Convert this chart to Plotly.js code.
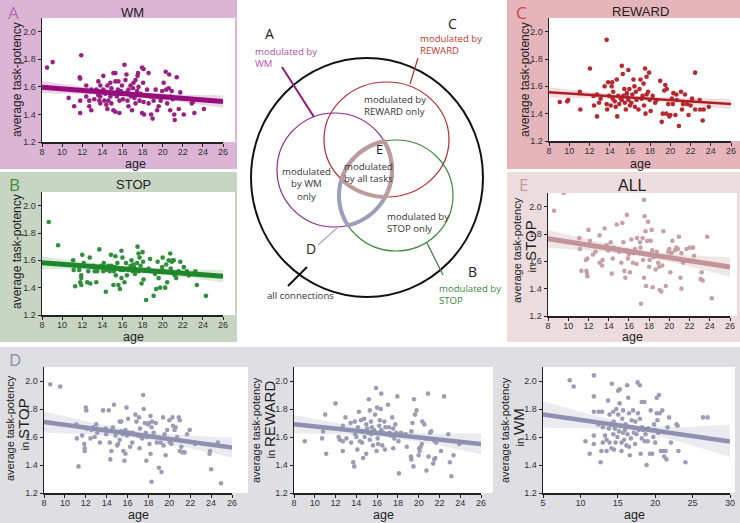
<!DOCTYPE html>
<html>
<head>
<meta charset="utf-8">
<script src="https://cdn.plot.ly/plotly-3.0.1.min.js"></script>
<style>
  html, body { margin: 0; padding: 0; background: #fff; }
  #fig { width: 740px; height: 523px; }
</style>
</head>
<body>
<div id="fig"></div>
<script>
// ---- data ----
var ageA = [8.5,9.06,10.65,11.2,11.75,11.8,11.9,11.8,11.8,12.4,12.4,12.7,12.7,12.9,12.9,13.2,13.4,13.6,13.7,13.6,13.8,13.8,13.8,14.1,14.1,14.2,14.3,14.4,14.5,14.5,14.6,14.8,14.8,14.9,14.9,15.1,15.1,15.1,15.3,15.3,15.3,15.45,15.55,15.6,15.7,15.7,15.85,15.95,16.05,16.2,16.3,16.4,16.45,16.5,16.6,16.6,16.8,16.85,16.95,17.05,17.1,17.2,17.3,17.3,17.45,17.5,17.55,17.6,17.7,17.8,17.95,17.95,18.05,18.1,18.1,18.15,18.45,18.6,18.6,18.8,18.85,19.0,19.1,19.3,19.45,19.5,19.6,19.8,19.95,20.1,20.1,20.3,20.35,20.45,20.6,20.65,20.75,20.8,20.9,21.0,21.15,21.2,21.4,21.6,21.75,22.1,22.9,23.0,23.15,24.1];
var potA = [1.74,1.78,1.52,1.46,1.67,1.66,1.83,1.50,1.41,1.61,1.53,1.50,1.46,1.43,1.58,1.51,1.58,1.54,1.50,1.64,1.61,1.53,1.48,1.68,1.58,1.50,1.55,1.47,1.44,1.61,1.50,1.63,1.53,1.59,1.48,1.70,1.55,1.43,1.70,1.64,1.42,1.53,1.58,1.64,1.50,1.41,1.57,1.61,1.51,1.76,1.65,1.69,1.56,1.50,1.58,1.46,1.61,1.53,1.43,1.59,1.63,1.52,1.65,1.48,1.57,1.68,1.70,1.60,1.50,1.55,1.74,1.41,1.63,1.73,1.49,1.40,1.58,1.70,1.48,1.53,1.40,1.37,1.50,1.58,1.43,1.53,1.46,1.50,1.57,1.63,1.53,1.71,1.58,1.48,1.59,1.69,1.43,1.53,1.57,1.51,1.40,1.36,1.67,1.44,1.56,1.40,1.48,1.49,1.41,1.44];

var ageB = [8.67,9.6,11.1,11.15,11.3,11.7,11.8,11.9,11.9,11.9,12.0,12.15,12.5,12.6,12.75,12.8,13.1,13.25,13.4,13.5,13.7,13.75,13.9,14.1,14.15,14.35,14.4,14.6,14.75,14.85,14.9,15.1,15.15,15.25,15.3,15.35,15.5,15.6,15.75,15.8,15.9,15.9,16.0,16.1,16.2,16.35,16.45,16.6,16.8,16.9,17.0,17.1,17.15,17.25,17.45,17.5,17.6,17.6,17.7,17.8,17.9,18.0,18.05,18.1,18.15,18.35,18.6,18.75,18.9,19.1,19.25,19.35,19.5,19.6,19.75,19.95,20.0,20.1,20.25,20.35,20.45,20.6,20.75,20.8,20.9,21.0,21.1,21.2,21.35,21.6,21.75,22.1,22.4,22.6,23.25,23.4,24.3];
var potB = [1.88,1.71,1.60,1.53,1.41,1.53,1.44,1.49,1.47,1.42,1.64,1.58,1.44,1.52,1.62,1.43,1.56,1.52,1.44,1.52,1.68,1.55,1.56,1.52,1.58,1.37,1.53,1.56,1.52,1.64,1.56,1.42,1.52,1.55,1.63,1.49,1.58,1.42,1.39,1.53,1.67,1.47,1.62,1.53,1.44,1.58,1.49,1.53,1.56,1.60,1.52,1.57,1.55,1.50,1.58,1.70,1.65,1.52,1.62,1.56,1.43,1.66,1.59,1.46,1.53,1.31,1.54,1.61,1.52,1.34,1.50,1.39,1.59,1.47,1.40,1.55,1.62,1.52,1.40,1.57,1.44,1.60,1.65,1.54,1.59,1.60,1.60,1.49,1.47,1.52,1.59,1.55,1.52,1.49,1.52,1.42,1.34];

var ageC = [9.06,9.8,9.9,11.05,11.1,12.05,12.4,12.45,12.75,12.75,12.95,13.1,13.5,13.7,13.7,13.75,13.85,13.95,14.1,14.2,14.25,14.3,14.35,14.5,14.6,14.7,14.75,14.85,14.95,15.1,15.2,15.2,15.3,15.35,15.45,15.5,15.6,15.7,15.75,15.85,15.85,15.95,16.0,16.15,16.25,16.35,16.45,16.5,16.6,16.65,16.85,16.95,17.05,17.15,17.25,17.35,17.4,17.5,17.55,17.65,17.65,17.8,17.9,17.95,18.05,18.25,18.5,18.65,19.0,19.15,19.25,19.4,19.5,19.6,19.65,19.8,19.9,20.0,20.15,20.25,20.3,20.5,20.6,20.65,20.85,21.05,21.15,21.25,21.45,21.65,21.8,22.0,22.15,22.45,22.45,22.9,22.95,23.2,23.3,23.8];
var potC = [1.485,1.49,1.50,1.56,1.43,1.73,1.53,1.46,1.54,1.38,1.48,1.51,1.60,1.94,1.47,1.43,1.63,1.53,1.46,1.60,1.63,1.51,1.56,1.49,1.45,1.65,1.38,1.53,1.47,1.51,1.75,1.50,1.69,1.53,1.58,1.48,1.43,1.55,1.52,1.72,1.50,1.58,1.46,1.48,1.54,1.65,1.60,1.45,1.56,1.50,1.43,1.58,1.65,1.51,1.53,1.62,1.46,1.73,1.40,1.67,1.54,1.56,1.70,1.50,1.42,1.53,1.48,1.50,1.64,1.34,1.40,1.57,1.61,1.40,1.58,1.47,1.38,1.39,1.51,1.47,1.55,1.39,1.54,1.50,1.31,1.56,1.43,1.47,1.54,1.47,1.39,1.46,1.51,1.70,1.43,1.50,1.43,1.35,1.43,1.45];

var ageE = [8.6,9.55,11.1,11.15,11.3,11.8,11.85,11.9,11.75,11.9,12.0,12.15,12.45,12.6,12.7,13.1,13.1,13.35,13.4,13.6,13.8,13.95,14.2,14.3,14.4,14.5,14.8,14.95,15.05,15.25,15.35,15.45,15.55,15.65,15.75,15.8,15.9,16.0,16.1,16.25,16.4,16.5,16.6,16.75,16.8,17.1,17.15,17.2,17.35,17.4,17.5,17.5,17.55,17.65,17.7,17.8,17.9,18.0,18.05,18.15,18.25,18.3,18.35,18.45,18.65,18.75,18.9,19.0,19.05,19.2,19.3,19.4,19.65,19.9,20.0,20.1,20.2,20.3,20.4,20.55,20.7,20.85,20.95,21.1,21.2,21.2,21.35,21.7,22.05,22.35,22.45,23.1,23.2,23.3,23.75,24.2];
var potE = [1.97,2.10,1.77,1.69,1.53,1.53,1.51,1.49,1.61,1.62,1.83,1.75,1.65,1.71,1.67,1.79,1.59,1.57,1.61,1.84,1.72,1.68,1.74,1.51,1.62,1.70,1.87,1.69,1.67,1.59,1.88,1.74,1.53,1.48,1.68,1.94,1.62,1.65,1.52,1.76,1.59,1.66,1.69,1.58,1.77,1.74,1.70,1.29,1.77,1.61,2.05,1.48,1.93,1.82,1.42,1.75,1.89,1.56,1.61,1.75,1.83,1.68,1.41,1.63,1.54,1.67,1.59,1.56,1.39,1.38,1.57,1.82,1.42,1.67,1.69,1.52,1.66,1.75,1.62,1.68,1.70,1.69,1.78,1.48,1.66,1.40,1.59,1.69,1.70,1.70,1.64,1.47,1.52,1.46,1.78,1.33];

var ageStop = [8.6,9.55,11.1,11.15,11.3,11.65,11.85,11.9,11.9,12.0,12.05,12.1,12.45,12.55,12.7,12.85,13.0,13.1,13.35,13.5,13.65,13.9,13.95,14.2,14.3,14.35,14.45,14.6,14.7,14.85,15.0,15.1,15.25,15.25,15.4,15.4,15.55,15.6,15.7,15.8,15.8,15.9,15.95,16.05,16.15,16.25,16.45,16.5,16.6,16.75,16.85,17.0,17.1,17.15,17.2,17.3,17.4,17.5,17.55,17.65,17.75,17.8,17.85,17.95,18.05,18.1,18.2,18.2,18.3,18.3,18.35,18.5,18.7,18.8,19.0,19.15,19.25,19.4,19.45,19.55,19.65,19.8,20.0,20.05,20.2,20.3,20.35,20.5,20.6,20.75,20.9,21.0,21.0,21.15,21.25,21.45,21.7,21.95,22.45,23.85,23.9,24.0,24.65,24.95];
var potStop = [1.976,1.96,1.69,1.59,1.39,1.61,1.55,1.52,1.50,1.81,1.79,1.66,1.59,1.65,1.67,1.60,1.69,1.63,1.56,1.65,1.79,1.66,1.62,1.79,1.56,1.44,1.50,1.67,1.83,1.61,1.54,1.55,1.58,1.71,1.64,1.71,1.62,1.50,1.43,1.65,1.48,1.81,1.61,1.73,1.63,1.53,1.56,1.63,1.62,1.76,1.71,1.61,1.74,1.52,1.66,1.60,1.59,1.90,1.80,1.70,1.63,1.43,1.60,1.69,1.70,1.55,1.48,1.75,1.67,1.28,1.71,1.63,1.70,1.56,1.38,1.56,1.35,1.74,1.54,1.62,1.47,1.65,1.72,1.56,1.55,1.74,1.68,1.65,1.67,1.60,1.74,1.50,1.72,1.53,1.49,1.49,1.62,1.65,1.55,1.48,1.50,1.37,1.56,1.27];

var ageRew = [9.03,10.7,10.8,11.0,11.1,12.0,12.3,12.4,12.7,12.7,12.7,12.95,13.05,13.45,13.5,13.7,13.8,13.85,13.9,14.0,14.1,14.15,14.25,14.35,14.45,14.5,14.55,14.65,14.75,14.8,14.9,14.95,14.95,15.05,15.15,15.2,15.3,15.3,15.4,15.45,15.5,15.6,15.7,15.8,15.85,15.9,15.95,16.0,16.05,16.1,16.2,16.25,16.35,16.4,16.4,16.5,16.6,16.7,16.75,16.8,16.9,17.05,17.15,17.2,17.3,17.45,17.55,17.55,17.65,17.75,17.85,17.95,18.05,18.1,18.3,18.75,18.85,19.25,19.3,19.3,19.4,19.5,19.55,19.65,19.8,19.9,20.0,20.05,20.1,20.2,20.3,20.35,20.55,20.65,20.75,20.9,20.95,21.1,21.2,21.4,21.5,21.55,21.6,21.7,22.15,22.45,22.85,23.0,23.15,23.35,23.9];
var potRew = [1.57,1.59,1.64,1.76,1.48,1.84,1.60,1.58,1.68,1.57,1.50,1.74,1.59,1.70,1.56,1.42,1.39,1.71,1.62,1.60,1.51,1.67,1.78,1.57,1.72,1.64,1.56,1.45,1.73,1.60,1.64,1.48,1.69,1.66,1.63,1.87,1.58,1.79,1.71,1.62,1.67,1.54,1.65,1.76,1.63,1.95,1.50,1.81,1.59,1.55,1.68,1.72,1.80,1.91,1.65,1.54,1.63,1.71,1.51,1.67,1.62,1.83,1.67,1.63,1.61,1.74,1.66,1.52,1.59,1.69,1.63,1.89,1.57,1.34,1.63,1.62,1.53,1.46,1.64,1.44,1.70,1.39,1.87,1.76,1.79,1.60,1.47,1.52,1.50,1.53,1.55,1.71,1.69,1.59,1.36,1.91,1.46,1.63,1.64,1.41,1.44,1.57,1.45,1.56,1.50,1.89,1.62,1.42,1.32,1.47,1.55];

var ageWm = [8.57,9.1,10.67,11.25,11.8,11.8,11.8,11.8,11.8,12.4,12.45,12.7,12.8,12.9,13.0,13.0,13.3,13.5,13.5,13.7,13.8,13.9,13.9,14.05,14.15,14.2,14.4,14.4,14.45,14.5,14.6,14.7,14.8,14.95,15.05,15.05,15.15,15.25,15.25,15.4,15.5,15.5,15.6,15.7,15.7,15.85,15.95,16.05,16.15,16.25,16.3,16.4,16.5,16.5,16.6,16.75,16.85,16.9,17.05,17.15,17.3,17.35,17.5,17.65,17.7,17.8,17.95,17.95,18.05,18.2,18.2,18.25,18.4,18.55,18.6,18.7,18.85,19.0,19.1,19.3,19.4,19.5,19.6,19.75,19.85,20.0,20.05,20.2,20.2,20.3,20.4,20.5,20.6,20.75,20.95,21.05,21.2,21.4,21.5,21.65,21.85,22.1,22.85,23.0,23.1,24.05,26.4,27.0];
var potWm = [2.005,1.96,1.57,1.48,2.04,1.89,1.78,1.61,1.55,1.69,1.78,1.42,1.50,1.78,1.56,1.67,1.61,1.50,1.58,1.86,1.66,1.76,1.56,1.69,1.52,1.98,1.62,1.78,1.71,1.51,1.66,1.56,1.80,1.60,1.93,1.76,1.64,1.94,1.84,1.68,1.50,1.56,1.73,1.63,1.79,1.58,1.65,1.69,1.54,1.97,1.62,1.88,1.77,1.53,1.47,1.59,1.72,1.67,1.79,1.63,1.55,1.71,1.62,1.99,1.77,1.65,1.97,1.73,1.48,1.85,1.59,1.67,1.65,1.85,1.57,1.62,1.40,1.57,1.66,1.48,1.79,1.65,1.48,1.60,1.69,1.56,1.65,1.88,1.77,1.72,1.63,1.90,1.77,1.50,1.79,1.50,1.46,1.50,1.44,1.67,1.74,1.56,1.69,1.68,1.50,1.42,1.74,1.74];

// fitted lines and their confidence bands
var fitAge = [8, 26];
var fitAgeWm = [5, 30];
var bandAge = [8, 12.5, 17, 21.5, 26];
var bandAgeWm = [5, 11.25, 17.5, 23.75, 30];

var fitA = [1.598, 1.493];
var bandUpA = [1.643, 1.598, 1.560, 1.545, 1.538];
var bandLoA = [1.553, 1.546, 1.530, 1.493, 1.448];

var fitB = [1.583, 1.484];
var bandUpB = [1.628, 1.584, 1.549, 1.535, 1.529];
var bandLoB = [1.538, 1.532, 1.519, 1.483, 1.439];

var fitC = [1.556, 1.470];
var bandUpC = [1.594, 1.557, 1.526, 1.514, 1.510];
var bandLoC = [1.518, 1.513, 1.500, 1.470, 1.430];

var fitE = [1.765, 1.558];
var bandUpE = [1.830, 1.750, 1.684, 1.647, 1.628];
var bandLoE = [1.700, 1.676, 1.640, 1.573, 1.488];

var fitStop = [1.707, 1.524];
var bandUpStop = [1.782, 1.704, 1.641, 1.613, 1.594];
var bandLoStop = [1.632, 1.618, 1.591, 1.527, 1.454];

var fitRew = [1.692, 1.550];
var bandUpRew = [1.757, 1.694, 1.643, 1.623, 1.625];
var bandLoRew = [1.627, 1.620, 1.599, 1.549, 1.475];

var fitWm = [1.761, 1.567];
var bandUpWm = [1.856, 1.763, 1.684, 1.670, 1.687];
var bandLoWm = [1.666, 1.662, 1.644, 1.560, 1.457];

var yTicks = [1.2, 1.4, 1.6, 1.8, 2.0];

// ---- page geometry (pixels) ----
var W = 740, H = 523;
function px(x){ return x / W; }
function py(y){ return 1 - y / H; }

var BASE = 'Liberation Sans, Arial, sans-serif';
var SOFT = 'Open Sans, DejaVu Sans, sans-serif';

var panels = [
  {age: ageA, pot: potA, fx: fitAge, fit: fitA, bx: bandAge, up: bandUpA, lo: bandLoA,
   dot: '#9a1f82', line: '#950e7b', lw: 5, band: 'rgba(160,40,140,0.2)',
   box: [42, 223, 18, 142], range: [8, 26], dtick: 2},
  {age: ageB, pot: potB, fx: fitAge, fit: fitB, bx: bandAge, up: bandUpB, lo: bandLoB,
   dot: '#2f8f3a', line: '#1f862b', lw: 5, band: 'rgba(60,140,60,0.18)',
   box: [42, 223, 192, 315], range: [8, 26], dtick: 2},
  {age: ageC, pot: potC, fx: fitAge, fit: fitC, bx: bandAge, up: bandUpC, lo: bandLoC,
   dot: '#b5282f', line: '#b01e25', lw: 2.5, band: 'rgba(180,40,50,0.15)',
   box: [549, 731, 18, 141], range: [8, 26], dtick: 2},
  {age: ageE, pot: potE, fx: fitAge, fit: fitE, bx: bandAge, up: bandUpE, lo: bandLoE,
   dot: '#c8a1a7', line: '#c39398', lw: 5, band: 'rgba(170,130,135,0.2)',
   box: [548, 730, 193, 316], range: [8, 26], dtick: 2},
  {age: ageStop, pot: potStop, fx: fitAge, fit: fitStop, bx: bandAge, up: bandUpStop, lo: bandLoStop,
   dot: '#9c9cb7', line: '#8f8fb0', lw: 4.5, band: 'rgba(140,140,170,0.18)',
   box: [44, 232, 367, 493], range: [8, 26], dtick: 2},
  {age: ageRew, pot: potRew, fx: fitAge, fit: fitRew, bx: bandAge, up: bandUpRew, lo: bandLoRew,
   dot: '#9c9cb7', line: '#8f8fb0', lw: 4.5, band: 'rgba(140,140,170,0.18)',
   box: [294, 481, 367, 493], range: [8, 26], dtick: 2},
  {age: ageWm, pot: potWm, fx: fitAgeWm, fit: fitWm, bx: bandAgeWm, up: bandUpWm, lo: bandLoWm,
   dot: '#9c9cb7', line: '#8f8fb0', lw: 4.5, band: 'rgba(140,140,170,0.18)',
   box: [543, 730, 367, 493], range: [5, 30], dtick: 5}
];

// panel backgrounds, then white plotting areas
var backs = [
  {r: [0, 237, 0, 169], c: '#dcb4d6'},
  {r: [0, 237, 172, 342], c: '#c7d5c2'},
  {r: [507, 740, 0, 169], c: '#e6b5bb'},
  {r: [507, 740, 172, 342], c: '#eddcde'},
  {r: [0, 740, 347, 523], c: '#dedee3'}
];
var whites = [
  [42, 235, 18, 142], [42, 235, 192, 315], [549, 740, 18, 141], [548, 737, 193, 316],
  [44, 248, 367, 493], [294, 493, 367, 493], [543, 735, 367, 493]
];

var data = [];
var layout = {
  width: W, height: H,
  margin: {l: 0, r: 0, t: 0, b: 0},
  paper_bgcolor: '#fff',
  plot_bgcolor: 'rgba(0,0,0,0)',
  showlegend: false,
  font: {family: BASE, color: '#222'},
  shapes: [],
  annotations: []
};

backs.forEach(function(b){
  layout.shapes.push({type: 'rect', xref: 'paper', yref: 'paper', layer: 'below',
    x0: px(b.r[0]), x1: px(b.r[1]), y0: py(b.r[3]), y1: py(b.r[2]),
    line: {width: 0}, fillcolor: b.c});
});
whites.forEach(function(r){
  layout.shapes.push({type: 'rect', xref: 'paper', yref: 'paper', layer: 'below',
    x0: px(r[0]), x1: px(r[1]), y0: py(r[3]), y1: py(r[2]),
    line: {width: 0}, fillcolor: '#fff'});
});

panels.forEach(function(p, i){
  var n = i + 1;
  var xa = n === 1 ? 'x' : 'x' + n;
  var ya = n === 1 ? 'y' : 'y' + n;
  var bandY = p.up.concat(p.lo.slice().reverse());
  var bandX = p.bx.concat(p.bx.slice().reverse());
  data.push({x: bandX, y: bandY, xaxis: xa, yaxis: ya, type: 'scatter', mode: 'lines',
    fill: 'toself', fillcolor: p.band, line: {width: 0}, hoverinfo: 'skip'});
  data.push({x: p.age, y: p.pot, xaxis: xa, yaxis: ya, type: 'scatter', mode: 'markers',
    marker: {size: 4.6, color: p.dot}});
  data.push({x: p.fx, y: p.fit, xaxis: xa, yaxis: ya, type: 'scatter', mode: 'lines',
    line: {color: p.line, width: p.lw}});

  var axCommon = {showline: true, linecolor: '#222', linewidth: 1.5, ticks: 'outside',
    ticklen: 3, tickwidth: 1, tickcolor: '#222', showgrid: false, zeroline: false,
    tickfont: {family: BASE, size: 9, color: '#333'}, fixedrange: true};
  layout[n === 1 ? 'xaxis' : 'xaxis' + n] = Object.assign({}, axCommon, {
    domain: [px(p.box[0]), px(p.box[1])], range: p.range, tick0: p.range[0],
    dtick: p.dtick, anchor: ya, ticklabelstandoff: -2});
  layout[n === 1 ? 'yaxis' : 'yaxis' + n] = Object.assign({}, axCommon, {
    domain: [py(p.box[3]), py(p.box[2])], range: [1.2, 2.1], tickvals: yTicks,
    tickformat: '.1f', anchor: xa});
});

function ann(text, x, y, size, color, opts){
  var a = {text: text, x: px(x), y: py(y), xref: 'paper', yref: 'paper', showarrow: false,
    xanchor: 'center', yanchor: 'middle', font: {family: BASE, size: size, color: color || '#222'}};
  return Object.assign(a, opts || {});
}
var A = layout.annotations;

// panel titles and letters
A.push(ann('WM', 132, 12, 13));
A.push(ann('STOP', 133, 185, 13));
A.push(ann('REWARD', 640, 11, 13));
A.push(ann('ALL', 632, 186, 16));
A.push(ann('A', 13, 12, 17, '#b56cb5', {font: {family: SOFT, size: 17, color: '#b56cb5'}}));
A.push(ann('B', 14, 185, 17, '#3e8e3e', {font: {family: SOFT, size: 17, color: '#3e8e3e'}}));
A.push(ann('C', 521, 12, 17, '#cc4444', {font: {family: SOFT, size: 17, color: '#cc4444'}}));
A.push(ann('E', 523, 185, 17, '#c49a9e', {font: {family: SOFT, size: 17, color: '#c49a9e'}}));
A.push(ann('D', 15, 359, 17, '#8c8ca4', {font: {family: SOFT, size: 17, color: '#8c8ca4'}}));

// axis titles
[[135, 164], [133, 337], [640, 164], [632, 337], [138, 515], [383, 515], [634, 515]].forEach(function(q){
  A.push(ann('age', q[0], q[1], 12.5));
});
A.push(ann('average task-potency', 17, 80, 12, '#222', {textangle: -90}));
A.push(ann('average task-potency', 17, 252, 12, '#222', {textangle: -90}));
A.push(ann('average task-potency', 525, 80, 12, '#222', {textangle: -90}));
var twoLine = [
  {x1: 517, x2: 529.5, y1: 250, y2: 247, task: 'STOP'},
  {x1: 10, x2: 22.5, y1: 428, y2: 425, task: 'STOP'},
  {x1: 256, x2: 268.5, y1: 430, y2: 420, task: 'REWARD'},
  {x1: 505, x2: 517.5, y1: 430, y2: 428, task: 'WM'}
];
twoLine.forEach(function(t){
  A.push(ann('average task-potency', t.x1, t.y1, 11, '#222', {textangle: -90}));
  A.push(ann('in <span style="font-size:15px">' + t.task + '</span>', t.x2, t.y2, 11, '#222', {textangle: -90}));
});

// ---- Venn diagram (pixel geometry) ----
var outer = {cx: 367, cy: 177.5, rx: 116, ry: 119.5};
var wm = {cx: 334.5, cy: 170, rx: 57.5, ry: 57};
var rew = {cx: 386.5, cy: 139.5, rx: 62.5, ry: 57.5};
var stop = {cx: 396, cy: 195.5, rx: 57, ry: 55.5};

function ellipse(e, color, width){
  layout.shapes.push({type: 'circle', xref: 'paper', yref: 'paper',
    x0: px(e.cx - e.rx), x1: px(e.cx + e.rx), y0: py(e.cy + e.ry), y1: py(e.cy - e.ry),
    line: {color: color, width: width}});
}
function ellPt(e, t){ return [e.cx + e.rx * Math.cos(t), e.cy + e.ry * Math.sin(t)]; }
function inside(e, p){
  var dx = (p[0] - e.cx) / e.rx, dy = (p[1] - e.cy) / e.ry;
  return dx * dx + dy * dy <= 1;
}
function arcIn(e, others){
  var n = 720, start = 0, i, pts = [];
  function allIn(p){ return others.every(function(o){ return inside(o, p); }); }
  for(i = 0; i < n; i++){
    if(!allIn(ellPt(e, 2 * Math.PI * i / n))){ start = i; break; }
  }
  for(i = 0; i <= n; i++){
    var p = ellPt(e, 2 * Math.PI * (start + i) / n);
    if(allIn(p)) pts.push(p);
  }
  return pts;
}
function chain(arcs){
  var path = arcs[0].slice(), rest = arcs.slice(1);
  while(rest.length){
    var end = path[path.length - 1], best = 0, bd = 1e9;
    rest.forEach(function(a, i){
      var d = Math.hypot(a[0][0] - end[0], a[0][1] - end[1]);
      if(d < bd){ bd = d; best = i; }
    });
    path = path.concat(rest[best]);
    rest.splice(best, 1);
  }
  return path;
}
function pathStr(pts){
  return pts.map(function(p, i){
    return (i ? 'L' : 'M') + px(p[0]).toFixed(5) + ',' + py(p[1]).toFixed(5);
  }).join(' ') + ' Z';
}
function seg(x0, y0, x1, y1, color, width){
  layout.shapes.push({type: 'line', xref: 'paper', yref: 'paper',
    x0: px(x0), y0: py(y0), x1: px(x1), y1: py(y1), line: {color: color, width: width}});
}

ellipse(outer, '#111', 2);
ellipse(wm, '#8b2a8b', 1.2);
ellipse(rew, '#b52a2a', 1.2);
ellipse(stop, '#3a8a3a', 1.2);

var lensD = chain([arcIn(wm, [stop]), arcIn(stop, [wm])]);
layout.shapes.push({type: 'path', xref: 'paper', yref: 'paper', path: pathStr(lensD),
  line: {color: '#9d9dbd', width: 4}});
var triE = chain([arcIn(wm, [rew, stop]), arcIn(rew, [wm, stop]), arcIn(stop, [wm, rew])]);
layout.shapes.push({type: 'path', xref: 'paper', yref: 'paper', path: pathStr(triE),
  line: {color: '#bd9d9b', width: 4}});

seg(282, 67, 314, 117, '#8b1a7a', 2);
seg(418, 58, 410, 84, '#b03030', 1.2);
seg(337, 228, 318, 245, '#a8a8c8', 1.2);
seg(427, 243, 443, 275, '#3a7a3a', 1.2);
seg(307, 267, 288, 286, '#111', 2);

// multi-line label: y0 is the first line's centre, lines ~11px apart in the reference
function vtext(lines, x, y0, color, anchor){
  var mid = y0 + 5.5 * (lines.length - 1);
  A.push(ann(lines.join('<br>'), x, mid, 10, color, {xanchor: anchor || 'center',
    align: anchor || 'center', font: {family: SOFT, size: 9.6, color: color}}));
}
function vletter(s, x, y, size){
  A.push(ann(s, x, y, size || 14, '#222', {font: {family: SOFT, size: size || 14, color: '#222'}}));
}
vletter('A', 269, 34);
vletter('C', 452, 23);
vletter('E', 379, 149, 13);
vletter('D', 311, 248);
vletter('B', 472, 271);
vtext(['modulated by', 'WM'], 253, 52, '#b050b0', 'left');
vtext(['modulated by', 'REWARD'], 418, 39, '#c0392b', 'left');
vtext(['modulated by', 'REWARD only'], 362, 100, '#333', 'left');
vtext(['modulated', 'by all tasks'], 342, 167, '#333', 'left');
vtext(['modulated', 'by WM', 'only'], 306, 173, '#333', 'center');
vtext(['modulated by', 'STOP only'], 385, 217, '#333', 'left');
vtext(['modulated by', 'STOP'], 437, 289, '#3a8a3a', 'left');
vtext(['all connections'], 265, 295, '#333', 'left');

Plotly.newPlot('fig', data, layout, {displayModeBar: false, staticPlot: true});
</script>
</body>
</html>
